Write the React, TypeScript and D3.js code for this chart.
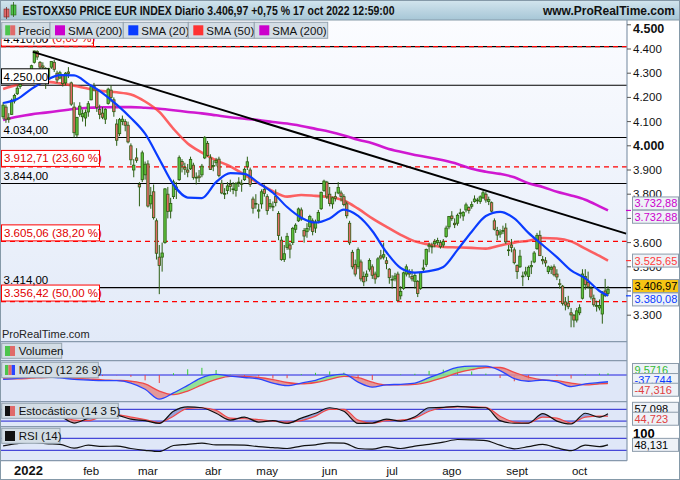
import React from "react";
import * as d3 from "d3";

// ---------------- DATA ----------------
// Daily candles, 16 dec 2021 .. 17 oct 2022 (index 0..213)
const opens = [
  4120,4160,4110,4130,4185,4215,4245,4262,4290,4305,
  4310,4345,4390,4345,4330,4320,4275,4325,4345,4300,4280,4290,4260,4305,4260,4160,4045,4130,4120,4115,4140,
  4190,4245,4230,4150,4135,4110,4175,4230,4190,4090,4050,4100,4100,4085,4000,3900,3950,3840,3860,3880,
  3925,3760,3810,3690,3540,3540,3600,3800,3730,3790,3830,3860,3935,3910,3900,3905,3920,3870,3875,3880,3950,4010,3950,
  3915,3930,3945,3845,3800,3815,3840,3820,3815,3850,3845,3860,3915,3900,3780,3760,3730,3760,3820,
  3790,3750,3750,3790,3720,3610,3530,3580,3590,3600,3655,3690,3735,3650,3645,3665,3690,3660,3690,3740,3815,3850,
  3800,3760,3790,3805,3805,3790,3760,3680,3560,3510,3500,3520,3460,3460,3490,3500,3470,3460,3545,3540,3525,3490,
  3445,3450,3470,3380,3410,3470,3475,3460,3440,3440,3410,3490,3510,3585,3585,3595,3600,3600,3590,3625,3665,
  3710,3680,3680,3720,3710,3735,3745,3750,3770,3775,3770,3785,3800,3770,3765,3690,3650,3635,3650,3660,3570,3590,3570,
  3505,3500,3460,3470,3460,3500,3520,3575,3630,3530,3525,3480,3490,3500,3470,3430,3420,3355,3350,3310,3300,3280,
  3310,3370,3460,3435,3410,3370,3340,3330,3305,3400,3390,
];
const highs = [
  4180,4170,4135,4195,4215,4250,4262,4305,4310,4315,
  4335,4393,4395,4350,4345,4325,4322,4350,4355,4310,4310,4295,4305,4325,4265,4180,4120,4180,4150,4150,4185,
  4250,4260,4235,4170,4160,4155,4240,4250,4200,4110,4115,4125,4110,4100,4010,3945,3990,3850,3980,3935,
  3940,3830,3840,3700,3590,3600,3825,3830,3785,3860,3850,3960,3945,3930,3925,3955,3930,3890,3900,3925,4040,4020,3965,
  3940,3950,3955,3860,3825,3850,3860,3850,3850,3870,3860,3910,3955,3910,3790,3800,3760,3820,3840,
  3800,3780,3770,3820,3730,3625,3590,3640,3600,3665,3680,3745,3745,3660,3680,3715,3700,3695,3735,3810,3860,3855,
  3830,3790,3810,3850,3815,3800,3770,3690,3570,3530,3580,3530,3480,3485,3535,3510,3480,3540,3570,3600,3540,3495,
  3465,3475,3480,3420,3480,3510,3490,3490,3475,3445,3480,3530,3575,3600,3600,3615,3620,3610,3615,3670,3710,
  3730,3700,3720,3740,3730,3765,3750,3770,3795,3785,3795,3815,3810,3790,3770,3700,3665,3655,3670,3680,3590,3615,3580,
  3510,3570,3480,3500,3505,3525,3565,3640,3650,3545,3540,3505,3505,3510,3490,3450,3425,3375,3380,3330,3305,3330,
  3345,3490,3490,3480,3420,3385,3360,3365,3400,3450,3420,
];
const lows = [
  4110,4095,4095,4128,4175,4210,4235,4258,4275,4285,
  4295,4340,4355,4300,4305,4235,4265,4318,4305,4260,4275,4245,4250,4280,4165,4034,4035,4120,4100,4080,4120,
  4188,4225,4140,4110,4110,4090,4170,4180,4120,4000,4040,4085,4060,4010,3920,3870,3930,3750,3850,3860,
  3745,3740,3695,3530,3387,3480,3595,3700,3700,3780,3780,3855,3890,3880,3870,3900,3860,3840,3850,3870,3945,3955,3900,
  3895,3915,3870,3800,3780,3800,3810,3800,3790,3830,3810,3855,3900,3830,3720,3740,3700,3740,3790,
  3715,3740,3730,3750,3610,3525,3520,3570,3535,3590,3640,3685,3690,3600,3620,3650,3630,3640,3680,3735,3810,3780,
  3750,3740,3770,3800,3770,3750,3700,3590,3490,3460,3490,3440,3420,3440,3480,3450,3430,3455,3530,3530,3490,3430,
  3410,3440,3360,3365,3405,3460,3455,3440,3410,3375,3405,3480,3500,3560,3555,3580,3590,3575,3580,3620,3655,
  3690,3660,3670,3700,3690,3725,3720,3740,3765,3760,3760,3780,3765,3755,3725,3650,3610,3620,3635,3595,3545,3560,3510,
  3450,3495,3420,3460,3445,3470,3515,3570,3545,3510,3500,3470,3470,3460,3445,3410,3340,3320,3325,3250,3250,3270,
  3300,3365,3405,3410,3365,3335,3315,3320,3265,3375,3380,
];
const closes = [
  4168,4110,4115,4188,4208,4238,4255,4300,4305,4298,
  4331,4392,4367,4325,4324,4265,4320,4348,4316,4272,4302,4257,4300,4299,4172,4054,4117,4164,4133,4137,4174,
  4245,4240,4158,4130,4118,4151,4234,4200,4141,4023,4108,4110,4085,4016,3942,3920,3940,3830,3971,3924,
  3751,3794,3703,3556,3505,3557,3822,3729,3762,3851,3819,3951,3920,3903,3891,3944,3869,3867,3868,3916,4035,3960,3902,
  3919,3940,3877,3805,3803,3834,3832,3822,3843,3848,3840,3903,3934,3840,3742,3762,3735,3810,3803,
  3732,3761,3749,3765,3629,3530,3554,3626,3573,3659,3672,3739,3697,3627,3658,3708,3646,3685,3724,3808,3854,3789,
  3762,3785,3783,3828,3791,3757,3711,3599,3500,3470,3571,3450,3438,3470,3526,3465,3450,3533,3536,3550,3514,3455,
  3448,3462,3360,3398,3475,3500,3470,3450,3464,3390,3477,3495,3572,3590,3582,3604,3609,3583,3604,3660,3708,
  3699,3674,3713,3723,3725,3756,3733,3757,3780,3776,3789,3806,3776,3778,3730,3655,3631,3644,3650,3603,3570,3580,3517,
  3480,3544,3462,3479,3498,3505,3557,3630,3546,3525,3516,3500,3497,3467,3458,3427,3348,3342,3335,3301,3280,3318,
  3331,3470,3426,3417,3375,3343,3339,3340,3388,3381,3407,
];

const monthLabels = ["2022", "feb", "mar", "abr", "may", "jun", "jul", "ago", "sept", "oct"];
const monthStartIdx = [10, 31, 51, 74, 93, 115, 137, 158, 181, 203];

// indicator samples (every 5 sessions)
const sampleIdx = [0,5,10,15,20,25,30,35,40,45,50,55,60,65,70,75,80,85,90,95,100,105,110,115,120,125,130,135,140,145,150,155,160,165,170,175,180,185,190,195,200,205,210,213];
const sma20 = [4177,4193,4235,4270,4292,4291,4256,4218,4170,4115,4050,3945,3840,3786,3784,3850,3887,3884,3846,3806,3747,3703,3683,3700,3736,3710,3648,3560,3495,3476,3482,3499,3570,3645,3710,3727,3700,3640,3590,3540,3485,3452,3400,3380.08];
const sma50 = [4235,4252,4266,4265,4258,4248,4236,4226,4221,4212,4183,4140,4070,4010,3972,3940,3915,3880,3845,3812,3790,3797,3793,3788,3774,3740,3700,3665,3632,3605,3592,3582,3580,3578,3575,3588,3600,3608,3619,3617,3605,3575,3545,3525.65];
const sma200 = [4107,4120,4130,4137,4145,4152,4157,4159,4160,4160,4157,4153,4147,4140,4134,4126,4118,4112,4106,4098,4092,4082,4070,4058,4043,4025,4011,3990,3975,3962,3952,3940,3925,3905,3893,3884,3870,3845,3830,3810,3795,3777,3750,3732.88];
const macdLine = [-24,-19,-12,-10,-16,-24,-28,-32,-32,-45,-80,-135,-100,-58,-15,3,-6,-14,-22,-46,-60,-45,-30,-5,5,-40,-68,-55,-52,-45,-15,15,43,50,50,25,-20,-35,-28,-38,-65,-50,-42,-37.744];
const macdSignal = [-20,-22,-18,-14,-12,-17,-22,-27,-30,-35,-50,-90,-110,-90,-55,-25,-8,-8,-14,-26,-42,-50,-42,-25,-8,-15,-40,-55,-55,-52,-38,-15,12,30,42,42,15,-12,-28,-32,-45,-55,-50,-47.316];
const stochK = [70,85,90,60,45,10,35,55,50,30,22,8,70,92,88,60,25,40,15,22,8,35,60,88,70,8,10,30,20,42,88,90,95,90,88,22,9,10,58,20,5,60,40,57.098];
const stochD = [60,78,86,72,50,25,22,45,52,40,28,12,45,85,88,75,35,32,28,20,15,22,45,80,80,25,10,22,25,35,70,88,92,93,90,45,15,10,40,35,10,40,45,44.723];
const rsi = [45,52,57,52,50,37,47,43,44,36,30,26,46,50,54,48,48,47,42,39,36,44,48,55,54,36,34,42,36,44,50,57,66,65,62,47,35,42,50,38,29,47,42,48.131];

const priceTicks = [3300,3400,3500,3600,3700,3800,3900,4000,4100,4200,4300,4400,4500];
const boldTicks = [4000, 4500];
const solidLevels = [4410, 4250, 4034, 3844, 3414];
const fibLevels = [4410.03, 3912.71, 3605.06, 3356.42];
const fibPct = ["0,00", "23,60", "38,20", "50,00"];
const trendIdx = [10.5, 219.4];
const trendVal = [4388, 3637];

const lastClose = 3406.97;
const lastSma20 = 3380.08;
const lastSma50 = 3525.65;
const lastSma200 = 3732.88;
const macdHistLast = 9.5716;
const stochHigh = 80, stochLow = 20;
const rsiHigh = 70, rsiLow = 30;

const legendLabels = ["Precio", "SMA (200)", "SMA (20)", "SMA (50)", "SMA (200)"];
const legendColors = ["", "#cc00cc", "#0a3cff", "#ff3333", "#cc00cc"];
const legendX = [1.7, 50, 123.3, 188.3, 254.3, 327.7];

// ---------------- COMPONENT ----------------
const FONT = "'Liberation Sans', Arial, sans-serif";
const loc = d3.formatLocale({ decimal: ",", thousands: ".", grouping: [3], currency: ["", ""], minus: "-" });
const f2 = loc.format(",.2f");
const f0 = loc.format(",.0f");
const f3 = loc.format(".3f");
const f4 = loc.format(".4f");

const C_BLUE = "#0a3cff";
const C_RED = "#ff3b3b";
const C_MAG = "#cc00cc";
const C_UP = "#5cc23c";
const C_DN = "#e26a66";
const C_EDGE = "#2b5e12";

function ValBox({ cy, text, color, fill = "#eef2f7" }) {
  return (
    <g>
      <rect x={632.5} y={cy - 6.5} width={46} height={13} fill={fill} stroke="#8d9cab" strokeWidth={1} />
      <text x={634.5} y={cy + 4} fontSize={11} fill={color} fontFamily={FONT}>{text}</text>
    </g>
  );
}

function Tab({ x0, x1, y0, y1, label, swatch }) {
  return (
    <g>
      <rect x={x0} y={y0} width={x1 - x0} height={y1 - y0} fill="#d3dde5" stroke="#95a4b0" strokeWidth={1} />
      {swatch}
      <text x={x0 + 17} y={(y0 + y1) / 2 + 4} fontSize={11.5} fill="#111" fontFamily={FONT}>{label}</text>
    </g>
  );
}

export default function App() {
  const x = d3.scaleLinear().domain([0, 213]).range([3.1, 608]);
  const y = d3.scaleLinear().domain([3300, 4500]).range([315.2, 24.8]);
  const yM = d3.scaleLinear().domain([-147, 77]).range([401.25, 361.25]);
  const yS = d3.scaleLinear().domain([0, 100]).range([425, 405.4]);
  const yR = d3.scaleLinear().domain([0, 100]).range([459.3, 429.3]);

  const PL = 1, PR = 627;
  const T = { main0: 20, main1: 341.7, vol1: 360.7, macd1: 401.7, st1: 426.7, rsi1: 460.7 };

  const sampleLine = (scale, vals) =>
    d3.line().x((d, i) => x(sampleIdx[i])).y((d) => scale(d)).curve(d3.curveMonotoneX)(vals);

  const bandArea = (scale, a, b) =>
    d3.area().x((d, i) => x(sampleIdx[i])).y0((d, i) => scale(b[i])).y1((d, i) => scale(a[i])).curve(d3.curveMonotoneX)(a);
  const clipArea = (scale, b, edge) =>
    d3.area().x((d, i) => x(sampleIdx[i])).y0(edge).y1((d, i) => scale(b[i])).curve(d3.curveMonotoneX)(b);

  const tx0 = x(trendIdx[0]), tx1 = x(trendIdx[1]);

  const candles = closes.map((c, i) => {
    const o = opens[i];
    const up = c >= o;
    const cx = x(i);
    const yTop = y(Math.max(o, c));
    const yBot = y(Math.min(o, c));
    return (
      <g key={i}>
        <line x1={cx} x2={cx} y1={y(Math.max(highs[i], o, c))} y2={y(Math.min(lows[i], o, c))} stroke={C_EDGE} strokeWidth={1} />
        <rect x={cx - 1.2} y={yTop} width={2.4} height={Math.max(0.8, yBot - yTop)} fill={up ? C_UP : C_DN} stroke={C_EDGE} strokeWidth={0.8} />
      </g>
    );
  });

  const hist = macdLine.map((m, i) => m - macdSignal[i]);

  return (
    <div style={{ position: "absolute", left: 0, top: 0 }}>
      <svg width={680} height={480} style={{ display: "block" }} fontFamily={FONT}>
        <defs>
          <linearGradient id="hdr" x1="0" x2="0" y1="0" y2="1">
            <stop offset="0" stopColor="#d3e5ee" />
            <stop offset="1" stopColor="#a6c6d6" />
          </linearGradient>
          <linearGradient id="plotbg" x1="0" x2="0" y1="0" y2="1">
            <stop offset="0" stopColor="#fbfcff" />
            <stop offset="1" stopColor="#e2eaf8" />
          </linearGradient>
          <clipPath id="mainClip"><rect x={PL} y={T.main0} width={PR - PL} height={T.main1 - T.main0} /></clipPath>
          <clipPath id="macdUp"><path d={clipArea(yM, macdSignal, 355)} /></clipPath>
          <clipPath id="macdDn"><path d={clipArea(yM, macdSignal, 410)} /></clipPath>
          <clipPath id="stUp"><path d={clipArea(yS, stochD, 395)} /></clipPath>
          <clipPath id="stDn"><path d={clipArea(yS, stochD, 430)} /></clipPath>
          <clipPath id="macdPanel"><rect x={PL} y={T.vol1} width={PR - PL} height={T.macd1 - T.vol1} /></clipPath>
          <clipPath id="stPanel"><rect x={PL} y={T.macd1} width={PR - PL} height={T.st1 - T.macd1} /></clipPath>
        </defs>

        <rect x={0} y={0} width={680} height={480} fill="#ffffff" />

        <rect x={PL} y={T.main0} width={PR - PL} height={T.main1 - T.main0} fill="url(#plotbg)" />
        <rect x={PL} y={T.main1} width={PR - PL} height={T.rsi1 - T.main1} fill="#dfe7f8" />

        {/* ---- main chart ---- */}
        <g clipPath="url(#mainClip)">
          {solidLevels.map((v) => (
            <line key={"s" + v} x1={PL} x2={PR} y1={y(v)} y2={y(v)} stroke="#000" strokeWidth={1.1} />
          ))}
          {fibLevels.map((v) => (
            <line key={"f" + v} x1={PL} x2={PR} y1={y(v)} y2={y(v)} stroke="#ff0000" strokeWidth={1.2} strokeDasharray="5,4" />
          ))}
          <path d={sampleLine(y, sma200)} fill="none" stroke={C_MAG} strokeWidth={2.6} strokeOpacity={0.9} />
          <path d={sampleLine(y, sma50)} fill="none" stroke={C_RED} strokeWidth={2.6} strokeOpacity={0.8} />
          {candles}
          <path d={sampleLine(y, sma20)} fill="none" stroke={C_BLUE} strokeWidth={2.2} />
          <line x1={tx0} y1={y(trendVal[0])} x2={tx1} y2={y(trendVal[1])} stroke="#000" strokeWidth={2} />

          {fibLevels.map((v, k) => (
            <g key={"fl" + v}>
              <rect x={1.5} y={y(v) - 16.5} width={k === 0 ? 92 : 98} height={16} fill="#ffffff" stroke="#ff0000" strokeWidth={1} />
              <text x={4} y={y(v) - 4.5} fontSize={11.5} fill="#e00000">{f2(v) + " (" + fibPct[k] + " %)"}</text>
            </g>
          ))}
          {solidLevels.map((v, k) => (
            <g key={"sl" + v}>
              {(k === 0 || k === 1) && (
                <rect x={1.5} y={y(v) - 16.5} width={k === 0 ? 44 : 47} height={15} fill="#ffffff" stroke="#000" strokeWidth={k === 1 ? 1 : 0} />
              )}
              <text x={3.5} y={y(v) - 4} fontSize={11.5} fill="#000">{f2(v)}</text>
            </g>
          ))}
          <text x={2} y={338} fontSize={11} fill="#222">ProRealTime.com</text>
        </g>

        {/* ---- MACD ---- */}
        <g clipPath="url(#macdPanel)">
          <line x1={PL} x2={PR} y1={yM(0)} y2={yM(0)} stroke="#2020e0" strokeWidth={1} />
          {hist.map((h, i) => (
            <line key={"h" + i} x1={x(sampleIdx[i])} x2={x(sampleIdx[i])} y1={yM(0)} y2={yM(h)} stroke={h >= 0 ? "#33cc33" : "#ee4444"} strokeWidth={1} />
          ))}
          <path d={bandArea(yM, macdLine, macdSignal)} fill="#86e086" fillOpacity={0.85} clipPath="url(#macdUp)" />
          <path d={bandArea(yM, macdLine, macdSignal)} fill="#e48a8a" fillOpacity={0.85} clipPath="url(#macdDn)" />
          <path d={sampleLine(yM, macdSignal)} fill="none" stroke="#f04848" strokeWidth={1.3} />
          <path d={sampleLine(yM, macdLine)} fill="none" stroke="#2a44ff" strokeWidth={1.3} />
        </g>

        {/* ---- Stochastic ---- */}
        <g clipPath="url(#stPanel)">
          <line x1={PL} x2={PR} y1={yS(stochHigh)} y2={yS(stochHigh)} stroke="#2020d0" strokeWidth={1} />
          <line x1={PL} x2={PR} y1={yS(stochLow)} y2={yS(stochLow)} stroke="#2020d0" strokeWidth={1} />
          <path d={bandArea(yS, stochK, stochD)} fill="#8a96d4" fillOpacity={0.85} clipPath="url(#stUp)" />
          <path d={bandArea(yS, stochK, stochD)} fill="#e48a8a" fillOpacity={0.85} clipPath="url(#stDn)" />
          <path d={sampleLine(yS, stochD)} fill="none" stroke="#f04848" strokeWidth={1.2} />
          <path d={sampleLine(yS, stochK)} fill="none" stroke="#111" strokeWidth={1.2} />
        </g>

        {/* ---- RSI ---- */}
        <line x1={PL} x2={PR} y1={yR(rsiHigh)} y2={yR(rsiHigh)} stroke="#2020d0" strokeWidth={1} />
        <line x1={PL} x2={PR} y1={yR(rsiLow)} y2={yR(rsiLow)} stroke="#2020d0" strokeWidth={1} />
        <path d={sampleLine(yR, rsi)} fill="none" stroke="#111" strokeWidth={1.2} />

        {[T.main1, T.vol1, T.macd1, T.st1, T.rsi1].map((yy) => (
          <line key={"sep" + yy} x1={PL} x2={PR} y1={yy} y2={yy} stroke="#8799ad" strokeWidth={1.2} />
        ))}
        <line x1={PR} x2={PR} y1={T.main0} y2={T.rsi1} stroke="#8799ad" strokeWidth={1.2} />

        {/* ---- right price axis ---- */}
        {priceTicks.map((v) => {
          const bold = boldTicks.includes(v);
          const yy = y(v);
          return (
            <g key={"t" + v}>
              <line x1={PR} x2={PR + 4} y1={yy} y2={yy} stroke="#555" strokeWidth={1} />
              <text x={633} y={Math.max(yy, 29) + 4} fontSize={bold ? 12.5 : 11.5} fontWeight={bold ? "bold" : "normal"} fill="#111">{f0(v)}</text>
            </g>
          );
        })}
        <line x1={PR - 1} x2={PR + 4} y1={y(lastSma200)} y2={y(lastSma200)} stroke={C_MAG} strokeWidth={1.2} />
        <line x1={PR - 1} x2={PR + 4} y1={y(lastSma50)} y2={y(lastSma50)} stroke={C_RED} strokeWidth={1.2} />
        <line x1={PR - 1} x2={PR + 4} y1={y(lastSma20)} y2={y(lastSma20)} stroke={C_BLUE} strokeWidth={1.2} />
        <line x1={PR - 1} x2={PR + 4} y1={y(3414)} y2={y(3414)} stroke="#000" strokeWidth={1.2} />
        <ValBox cy={y(lastSma200) - 7} text={f2(lastSma200)} color={C_MAG} />
        <ValBox cy={y(lastSma200) + 6.3} text={f2(lastSma200)} color={C_MAG} />
        <ValBox cy={y(lastSma50)} text={f2(lastSma50)} color={C_RED} />
        <ValBox cy={y(lastClose) - 3.3} text={f2(lastClose)} color="#000" fill="#f6c514" />
        <ValBox cy={y(lastSma20) + 3.6} text={f2(lastSma20)} color={C_BLUE} />

        <ValBox cy={yM(macdHistLast) - 3.3} text={f4(macdHistLast)} color="#33bb33" />
        <ValBox cy={yM(macdLine[macdLine.length - 1]) - 1.7} text={f3(macdLine[macdLine.length - 1])} color={C_BLUE} />
        <ValBox cy={yM(macdSignal[macdSignal.length - 1]) + 6.3} text={f3(macdSignal[macdSignal.length - 1])} color="#e04040" />
        <ValBox cy={yS(stochK[stochK.length - 1]) - 5} text={f3(stochK[stochK.length - 1])} color="#000" />
        <ValBox cy={yS(stochD[stochD.length - 1]) + 2.5} text={f3(stochD[stochD.length - 1])} color="#e04040" />
        <text x={633} y={437.5} fontSize={13} fontWeight="bold" fill="#000">100</text>
        <ValBox cy={yR(rsi[rsi.length - 1])} text={f3(rsi[rsi.length - 1])} color="#000" />

        {/* ---- x axis ---- */}
        {monthLabels.map((m, k) => (
          <text key={m} x={x(monthStartIdx[k]) - (k === 0 ? 3 : 0)} y={475} textAnchor="middle" fontSize={k === 0 ? 13 : 11.5} fontWeight={k === 0 ? "bold" : "normal"} fill="#111">{m}</text>
        ))}

        {/* ---- indicator tabs ---- */}
        <Tab x0={1.7} x1={61.7} y0={343.3} y1={358.3} label="Volumen"
          swatch={<g><rect x={5} y={346} width={5} height={10} fill="#4cc44c" /><rect x={10} y={346} width={5} height={10} fill="#e06a6a" /></g>} />
        <Tab x0={1.7} x1={98.3} y0={362.3} y1={377.7} label="MACD (12 26 9)"
          swatch={<g><rect x={5} y={365} width={3.4} height={10} fill="#4cc44c" /><rect x={8.4} y={365} width={3.3} height={10} fill="#e06a6a" /><rect x={11.7} y={365} width={3.3} height={10} fill="#2a44ff" /></g>} />
        <Tab x0={1.7} x1={118.3} y0={403.3} y1={418.3} label="Estocástico (14 3 5)"
          swatch={<g><rect x={5} y={406} width={5} height={10} fill="#111" /><rect x={10} y={406} width={5} height={10} fill="#e06a6a" /></g>} />
        <Tab x0={1.7} x1={60} y0={428.3} y1={443.3} label="RSI (14)"
          swatch={<rect x={5} y={431} width={10} height={10} fill="#111" />} />

        {/* ---- legend tabs ---- */}
        {legendLabels.map((lab, k) => (
          <g key={"lg" + k}>
            <rect x={legendX[k]} y={22.3} width={legendX[k + 1] - legendX[k]} height={16} fill="#d3dde5" stroke="#95a4b0" strokeWidth={1} />
            {k === 0 ? (
              <g><rect x={legendX[k] + 3.5} y={25.3} width={5} height={10} fill="#4cc44c" /><rect x={legendX[k] + 8.5} y={25.3} width={5} height={10} fill="#e06a6a" /></g>
            ) : (
              <rect x={legendX[k] + 5} y={25.3} width={10} height={10} fill={legendColors[k]} />
            )}
            <text x={legendX[k] + (k === 0 ? 16.5 : 18)} y={34.8} fontSize={11.5} fill="#111">{lab}</text>
          </g>
        ))}

        {/* ---- header ---- */}
        <rect x={0} y={0} width={680} height={20} fill="url(#hdr)" />
        <line x1={0} x2={680} y1={20} y2={20} stroke="#8599a8" strokeWidth={1} />
        <rect x={4} y={9} width={5} height={8} fill="#e06a6a" stroke="#7a2a2a" strokeWidth={0.6} />
        <line x1={6.5} x2={6.5} y1={7} y2={19} stroke="#7a2a2a" strokeWidth={0.8} />
        <rect x={11} y={5} width={5} height={10} fill="#4cc44c" stroke="#2b5e12" strokeWidth={0.6} />
        <line x1={13.5} x2={13.5} y1={2} y2={17} stroke="#2b5e12" strokeWidth={0.8} />
        <text x={22.5} y={15} fontSize={12} fontWeight="bold" fill="#111" textLength={372} lengthAdjust="spacingAndGlyphs">
          ESTOXX50 PRICE EUR INDEX Diario 3.406,97 +0,75 % 17 oct 2022 12:59:00
        </text>
        <text x={675} y={15} fontSize={12} fontWeight="bold" fill="#111" textAnchor="end">www.ProRealTime.com</text>

        <rect x={0.5} y={0.5} width={679} height={479} fill="none" stroke="#8599a8" strokeWidth={1} />
      </svg>
    </div>
  );
}
